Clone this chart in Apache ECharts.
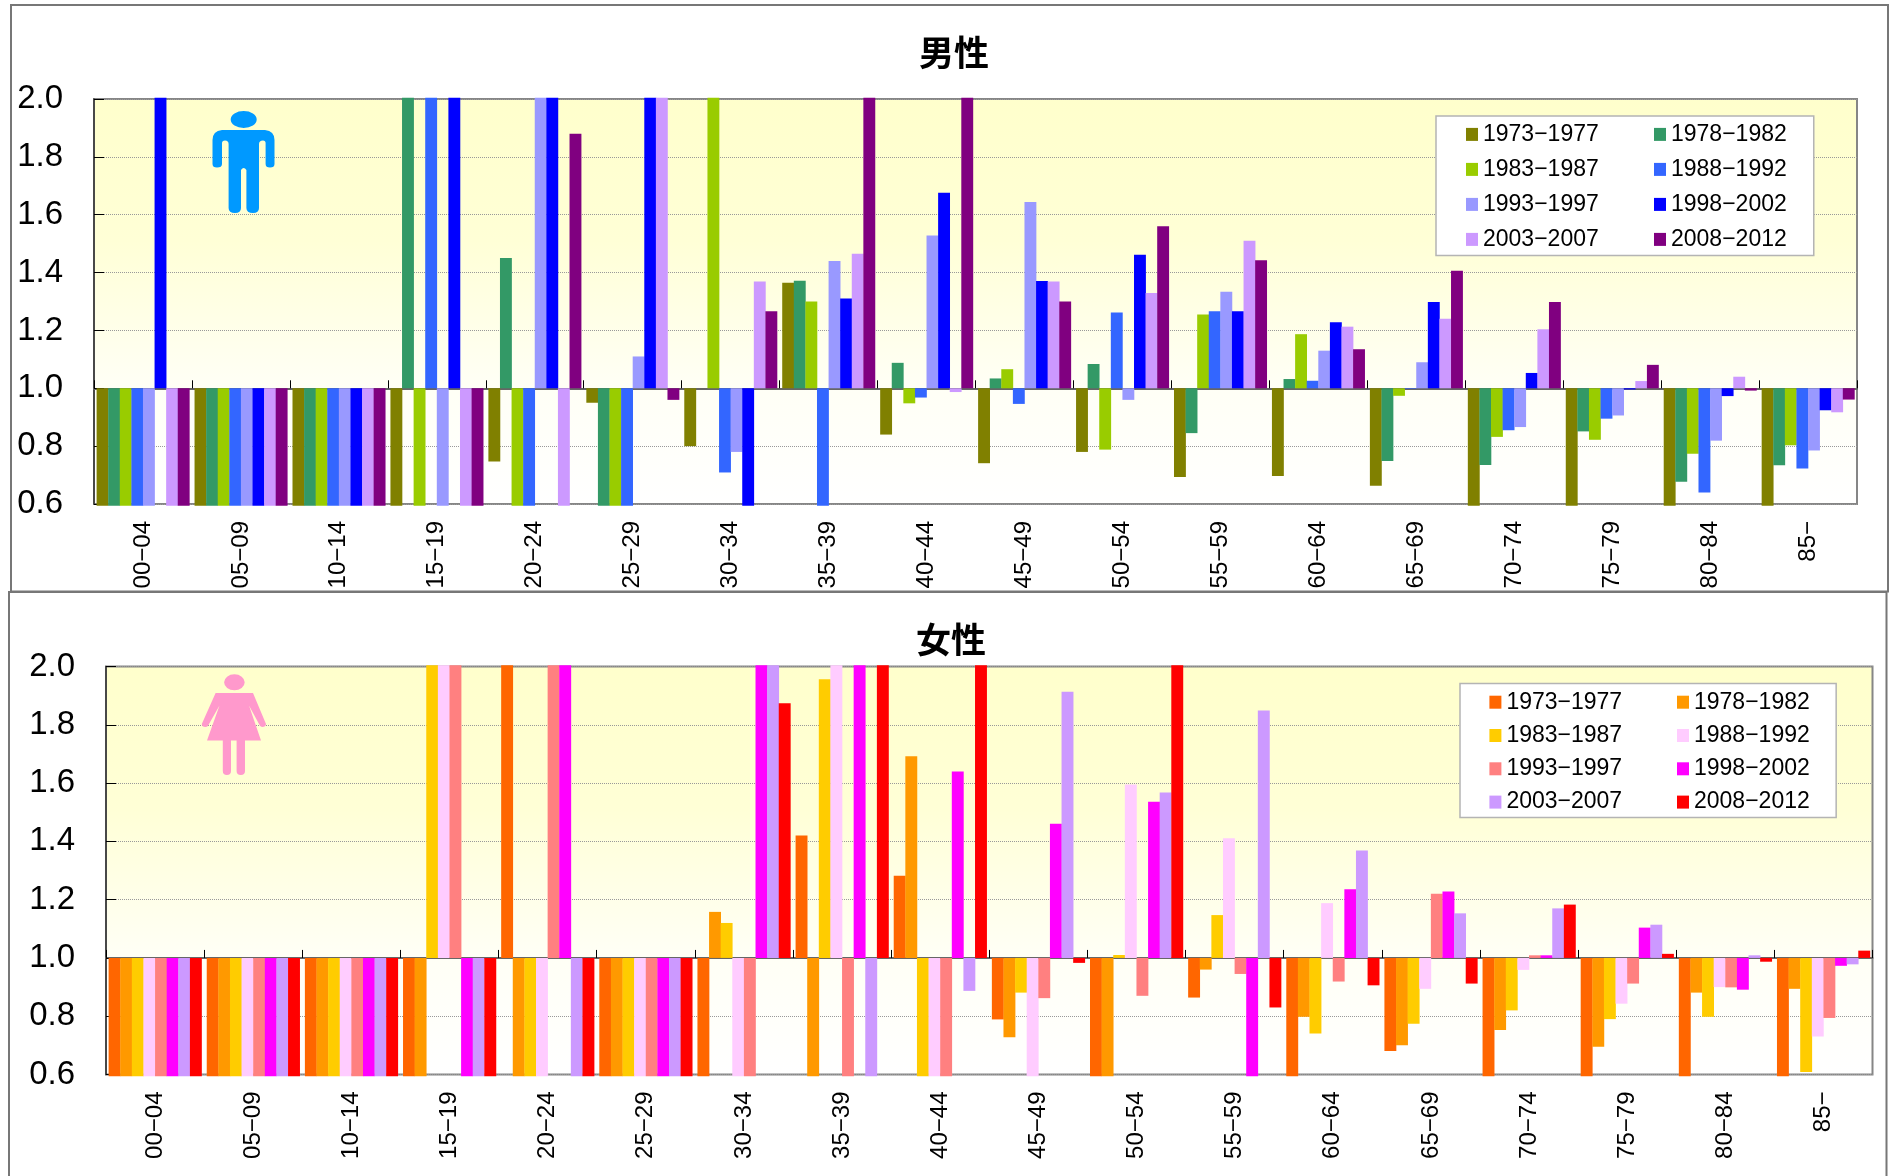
<!DOCTYPE html>
<html><head><meta charset="utf-8">
<script src="https://cdn.jsdelivr.net/npm/echarts@6/dist/echarts.min.js"></script>
<style>html,body{margin:0;padding:0;background:#fff;overflow:hidden}
#m{position:absolute;left:0;top:0;width:1891px;height:593px}
#f{position:absolute;left:0;top:591px;width:1891px;height:585px}</style>
</head><body><div id="m"></div><div id="f"></div>
<script>
const ageGroups=['00−04','05−09','10−14','15−19','20−24','25−29','30−34','35−39','40−44','45−49','50−54','55−59','60−64','65−69','70−74','75−79','80−84','85−'];
const periods=['1973−1977','1978−1982','1983−1987','1988−1992','1993−1997','1998−2002','2003−2007','2008−2012'];
// Male ratio per age group, one list per period (bars running off the axis are read as the axis limit)
const male1973=[.6,.6,.6,.6,.747,.95,.80,1.365,.84,.741,.78,.693,.697,.663,.6,.6,.6,.6];
const male1978=[.6,.6,.6,2,1.45,.6,null,1.372,1.088,1.034,1.084,.845,1.032,.749,.735,.851,.677,.734];
const male1983=[.6,.6,.6,.6,.6,.6,2,1.30,.948,1.066,.788,1.255,1.187,.974,.832,.822,.774,.803];
const male1988=[.6,.6,.6,2,.6,.6,.709,.6,.968,.946,1.262,1.266,1.026,.998,.855,.895,.64,.723];
const male1993=[.6,.6,.6,.6,2,1.11,.78,1.44,1.528,1.644,.96,1.334,1.13,1.09,.866,.906,.819,.785];
const male1998=[2,.6,.6,2,2,2,.6,1.31,1.676,1.371,1.462,1.266,1.228,1.298,1.053,.996,.973,.924];
const male2003=[.6,.6,.6,.6,.6,2,1.369,1.465,.987,1.369,1.329,1.51,1.213,1.24,1.204,1.025,1.04,.917];
const male2008=[.6,.6,.6,.6,1.88,.96,1.266,2,2,1.30,1.56,1.443,1.135,1.406,1.298,1.081,.992,.961];
// Female
const female1973=[.6,.6,.6,.6,2,.6,.6,1.42,1.282,.789,.6,.864,.6,.681,.6,.6,.6,.6];
const female1978=[.6,.6,.6,.6,.6,.6,1.158,.6,1.692,.728,.6,.96,.798,.70,.753,.695,.881,.894];
const female1983=[.6,.6,.6,2,.6,.6,1.12,1.956,.6,.881,1.01,1.147,.741,.774,.82,.79,.798,.609];
const female1988=[.6,.6,.6,2,.6,.6,.6,2,.6,.6,1.595,1.411,1.188,.894,.959,.843,.90,.73];
const female1993=[.6,.6,.6,2,2,.6,.6,.6,.6,.862,.87,.945,.919,1.22,1.009,.912,.899,.794];
const female1998=[.6,.6,.6,.6,2,.6,2,2,1.64,1.46,1.536,.6,1.236,1.228,1.009,1.104,.891,.973];
const female2003=[.6,.6,.6,.6,.6,.6,2,.6,.887,1.913,1.568,1.849,1.369,1.153,1.17,1.114,1.009,.978];
const female2008=[.6,.6,.6,.6,.6,.6,1.874,2,2,.983,2,.83,.906,.912,1.183,1.014,.987,1.025];
const maleValues=[male1973,male1978,male1983,male1988,male1993,male1998,male2003,male2008];
const femaleValues=[female1973,female1978,female1983,female1988,female1993,female1998,female2003,female2008];
const maleColors=['#808000','#339966','#99CC00','#3366FF','#9999FF','#0000FF','#CC99FF','#800080'];
const femaleColors=['#FF6600','#FF9900','#FFCC00','#FFCCFF','#FF8080','#FF00FF','#CC99FF','#FF0000'];
const FONT='"Liberation Sans",sans-serif';
const BASE=1.0;
const manPath='M212.5,140 Q212.5,131 222,130 L265,130 Q274.5,131 274.5,140 L274.5,164 Q274.5,167.5 270,167.5 Q265.6,167.5 265.6,164 L265.6,143 Q265.6,140.5 263,140.5 Q259,140.5 259,144 L259,208 Q259,213 253,213 Q246.4,213 246.4,208 L246.4,170 Q243.7,166 241,170 L241,208 Q241,213 235,213 Q228.6,213 228.6,208 L228.6,144 Q228.6,140.5 225,140.5 Q222,140.5 222,143 L222,164 Q222,167.5 217,167.5 Q212.5,167.5 212.5,164 Z M230.7,119.4 A13,8.5 0 1 1 256.7,119.4 A13,8.5 0 1 1 230.7,119.4 Z';
const womanPath='M215.6,102 L253,102 L266,133 Q266,136 262,136 Q260,136 259,133 L249,114.5 L261,149.5 L245,149.5 L245,180 Q245,184 240.8,184 Q236.6,184 236.6,180 L236.6,149.5 L231,149.5 L231,180 Q231,184 226.9,184 Q222.8,184 222.8,180 L222.8,149.5 L207,149.5 L219.5,114.5 L209,133 Q208,136 205.5,136 Q201.8,136 201.8,133 Z M224.1,91.3 A10.3,8 0 1 1 244.7,91.3 A10.3,8 0 1 1 224.1,91.3 Z';
echarts.graphic.registerShape('manIcon',echarts.graphic.extendPath(manPath,{}));
echarts.graphic.registerShape('womanIcon',echarts.graphic.extendPath(womanPath,{}));

function panel(id,cfg){
  const chart=echarts.init(document.getElementById(id),null,{renderer:'canvas'});
  const g=cfg.grid;
  const bgFill=new echarts.graphic.LinearGradient(0,0,0,1,[{offset:0,color:'#FFFFCC'},{offset:.35,color:'#FFFFD6'},{offset:.7,color:'#FFFFF5'},{offset:1,color:'#FFFFFF'}]);
  const series=periods.map((p,idx)=>({
    name:p,type:'custom',clip:false,z:4,
    itemStyle:{color:cfg.colors[idx]},
    encode:{x:0,y:1},
    data:cfg.values[idx].map((v,i)=>[ageGroups[i],v]),
    renderItem:(params,api)=>{
      const v=api.value(1);
      if(isNaN(v)) return null;
      const band=api.size([1,0])[0];
      const w=band*0.9468/8;
      const cx=api.coord([api.value(0),BASE]);
      // off-scale bars poke just past the axis limits in the source
      const shown=v<=0.6?0.594:(v>=2?2.004:v);
      const top=api.coord([api.value(0),shown])[1];
      return {type:'rect',shape:{x:cx[0]-4*w+idx*w,y:Math.min(cx[1],top),width:w+0.3,height:Math.abs(cx[1]-top)},
        style:{fill:cfg.colors[idx]}};
    }
  }));
  const col=(n,o)=>({
    data:periods.filter((_,i)=>i%2===n),orient:'vertical',icon:'rect',itemWidth:12,itemHeight:13,
    left:o.left,top:o.top,padding:o.padding,itemGap:o.gap,
    backgroundColor:o.bg||'transparent',borderColor:o.bg?'#B4B4B4':'transparent',borderWidth:o.bg?1.5:0,
    textStyle:{fontFamily:FONT,fontSize:23,lineHeight:24,color:'#000'},z:o.z
  });
  chart.setOption({
    animation:false,
    title:{text:cfg.title,left:cfg.titleX,top:cfg.titleY,textAlign:'center',textStyle:{fontFamily:'"Noto Sans CJK JP"',fontWeight:'bold',fontSize:35,color:'#000'}},
    grid:{left:g.left,top:g.top,width:g.width,height:g.height,show:true,backgroundColor:bgFill,borderColor:'#868686',borderWidth:2,containLabel:false,outerBoundsMode:'none'},
    xAxis:[
      {type:'category',data:ageGroups,position:'bottom',axisLine:{show:false},axisTick:{show:false},
       axisLabel:{rotate:90,margin:17,fontFamily:FONT,fontSize:24,color:'#000',interval:0}},
      {type:'category',data:ageGroups,position:'bottom',offset:-g.height*.4/1.4,
       axisLine:{show:true,onZero:false,lineStyle:{color:'#666',width:2}},
       axisTick:{show:true,inside:true,length:8,lineStyle:{color:'#000',width:1}},axisLabel:{show:false}}
    ],
    yAxis:{type:'value',min:0.6,max:2.0,interval:0.2,
      axisLine:{show:true,onZero:false,lineStyle:{color:'#333',width:1.5}},
      axisTick:{show:true,inside:true,length:10,lineStyle:{color:'#000'}},
      splitLine:{show:true,lineStyle:{color:'#999',type:'dotted',width:1}},
      axisLabel:{margin:31,padding:[4,0,0,0],fontFamily:FONT,fontSize:33,color:'#000',formatter:v=>v.toFixed(1)}},
    legend:[col(0,cfg.leg0),col(1,cfg.leg1)],
    graphic:[
      {type:'rect',z:0,shape:cfg.frame,style:{fill:'none',stroke:'#777',lineWidth:2}},
      {type:cfg.icon,z:3,style:{fill:cfg.iconColor}}
    ],
    series
  });
}
panel('m',{title:'男性',titleX:949,titleY:30,values:maleValues,colors:maleColors,
  grid:{left:94,top:99,width:1763,height:405},
  frame:{x:11,y:5,width:1877,height:586.5},icon:'manIcon',iconColor:'#0099FF',
  leg0:{left:1436,top:116,padding:[6.4,215,4,30],gap:11,bg:'#fff',z:5},
  leg1:{left:1654,top:122.4,padding:0,gap:11,z:6}});
panel('f',{title:'女性',titleX:946,titleY:26,values:femaleValues,colors:femaleColors,
  grid:{left:106,top:75.5,width:1766.5,height:408},
  frame:{x:9,y:1,width:1877.5,height:600},icon:'womanIcon',iconColor:'#FF99CC',
  leg0:{left:1460,top:92.5,padding:[6.7,214,3.4,29.4],gap:9.3,bg:'#fff',z:5},
  leg1:{left:1677,top:99.2,padding:0,gap:9.3,z:6}});
</script></body></html>
